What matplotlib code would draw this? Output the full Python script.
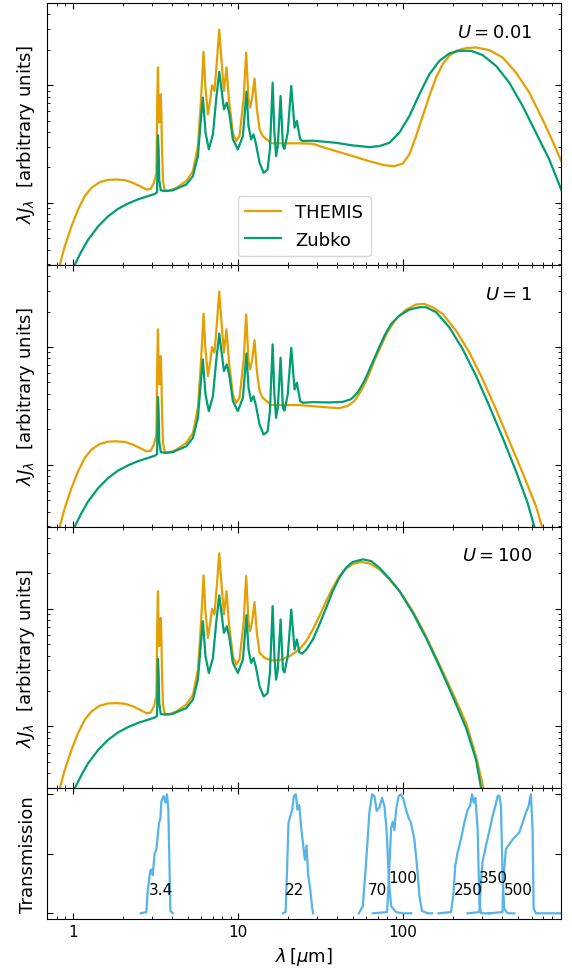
import numpy as np
import matplotlib
matplotlib.use('Agg')
import matplotlib.pyplot as plt
from matplotlib.ticker import NullFormatter, FuncFormatter

# --- dust SEDs, lambda*J_lambda in arbitrary units ---
# short-wavelength part is the same in the three panels
themis_wl_pah = [0.80, 0.831, 0.891, 0.978, 1.072, 1.177, 1.291, 1.45, 1.63, 1.83, 2.06, 2.31, 2.59,
                 2.78, 2.95, 3.09, 3.20, 3.24, 3.27, 3.30, 3.33, 3.38, 3.40, 3.43, 3.46, 3.51, 3.59,
                 3.76, 4.22, 4.85, 5.33, 5.71, 5.93, 6.04, 6.18, 6.33, 6.57, 6.79, 6.95, 7.20, 7.46,
                 7.69, 7.98, 8.21, 8.51, 8.80, 9.30, 9.74, 10.2, 10.8, 11.2, 11.57, 11.84, 12.18,
                 12.58, 13.0, 13.5]
themis_pah = [0.0245, 0.0298, 0.0427, 0.0632, 0.0877, 0.114, 0.134, 0.150, 0.157, 0.158, 0.156,
              0.148, 0.137, 0.130, 0.131, 0.148, 0.180, 0.760, 1.416, 0.624, 0.481, 0.811, 0.838,
              0.585, 0.285, 0.153, 0.130, 0.126, 0.134, 0.153, 0.186, 0.304, 0.667, 1.054, 1.923,
              0.986, 0.566, 0.760, 1.0, 0.895, 1.667, 2.965, 1.462, 0.895, 1.416, 0.760, 0.395,
              0.336, 0.370, 0.760, 1.897, 0.760, 0.646, 0.785, 1.140, 0.624, 0.422]

zubko_wl_pah = [0.98, 1.024, 1.124, 1.233, 1.42, 1.63, 1.87, 2.15, 2.47, 2.84, 3.12, 3.23, 3.27,
                3.30, 3.33, 3.40, 3.59, 4.03, 4.22, 4.85, 5.33, 5.71, 5.98, 6.12, 6.35, 6.65, 7.04,
                7.37, 7.69, 7.98, 8.21, 8.55, 8.87, 9.30, 9.97, 10.7, 11.25, 11.57, 12.0, 12.4,
                12.8, 13.5, 14.3, 15.1, 15.6, 16.2, 16.6, 17.0, 17.4, 18.1, 18.7, 19.1, 20.0, 21.0]
zubko_pah = [0.0255, 0.0298, 0.0387, 0.0486, 0.0632, 0.0769, 0.0889, 0.0986, 0.107, 0.114, 0.119,
             0.123, 0.375, 0.285, 0.158, 0.128, 0.126, 0.128, 0.132, 0.143, 0.169, 0.250, 0.548,
             0.785, 0.395, 0.285, 0.382, 0.760, 1.300, 0.865, 0.624, 0.711, 0.566, 0.347, 0.285,
             0.370, 0.883, 0.450, 0.347, 0.382, 0.324, 0.219, 0.180, 0.192, 0.285, 1.054, 0.395,
             0.250, 0.304, 0.811, 0.304, 0.288, 0.395, 0.986]

# long-wavelength part, one per radiation field U
themis_wl_u001 = [14.1, 15.9, 18.7, 23.5, 28.4, 31.1, 39.3, 49.5, 62.5, 77.1, 88.6, 99.5, 109.2,
                  119.9, 131.5, 144.3, 158.5, 173.8, 190.6, 209.3, 240.4, 276.7, 332.8, 400.8, 483,
                  582, 700, 805, 891, 1000]
themis_u001 = [0.370, 0.321, 0.321, 0.321, 0.318, 0.304, 0.275, 0.250, 0.226, 0.209, 0.205, 0.216,
               0.258, 0.370, 0.547, 0.811, 1.163, 1.510, 1.778, 1.961, 2.068, 2.095, 1.988, 1.722,
               1.283, 0.866, 0.513, 0.335, 0.242, 0.167]
zubko_wl_u001 = [22.0, 22.7, 23.8, 24.6, 28.4, 39.3, 49.5, 62.5, 71.9, 82.6, 94.9, 109.2, 125.6,
                 144.3, 166, 190.6, 219.3, 258, 303.3, 365.6, 439.7, 529.8, 638.5, 768.6, 891, 1000]
zubko_u001 = [0.436, 0.497, 0.347, 0.336, 0.338, 0.324, 0.308, 0.298, 0.304, 0.324, 0.395, 0.547,
              0.838, 1.241, 1.611, 1.862, 1.961, 1.961, 1.803, 1.462, 1.054, 0.667, 0.395, 0.234,
              0.139, 0.092]

themis_wl_u1 = [14.1, 15.9, 18.7, 23.5, 28.4, 35.8, 41.1, 46.2, 50.7, 55.7, 61.1, 67.0, 73.6, 80.7,
                90.7, 104.3, 119.9, 134.6, 151.1, 173.8, 209.3, 251.8, 303.3, 365.6, 439.7, 529.8,
                638.5, 693.8, 780]
themis_u1 = [0.370, 0.321, 0.321, 0.321, 0.314, 0.306, 0.302, 0.316, 0.348, 0.424, 0.551, 0.765,
             1.026, 1.349, 1.734, 2.080, 2.296, 2.326, 2.178, 1.910, 1.377, 0.902, 0.533, 0.296,
             0.159, 0.0855, 0.0444, 0.0300, 0.0173]
zubko_wl_u1 = [22.0, 22.7, 23.8, 24.6, 28.4, 35.8, 43.1, 48.4, 53.1, 58.3, 64.0, 70.2, 77.1, 84.6,
               95.0, 109.2, 125.6, 137.8, 158.5, 190.6, 229.5, 276.7, 332.8, 400.8, 483, 568, 615,
               700]
zubko_u1 = [0.436, 0.497, 0.347, 0.336, 0.340, 0.338, 0.342, 0.360, 0.411, 0.516, 0.693, 0.931,
            1.249, 1.570, 1.849, 2.080, 2.178, 2.178, 1.977, 1.472, 0.962, 0.569, 0.316, 0.170,
            0.0881, 0.0474, 0.0320, 0.017]

themis_wl_u100 = [14.5, 15.9, 17.8, 20.5, 23.5, 25.9, 28.4, 31.1, 34.2, 37.5, 41.1, 45.1, 49.5, 55.6,
                  62.5, 71.9, 82.6, 95.1, 114.5, 137.8, 166, 200, 241, 277, 307, 330]
themis_u100 = [0.382, 0.365, 0.365, 0.395, 0.452, 0.530, 0.667, 0.865, 1.161, 1.510, 1.897, 2.193,
               2.404, 2.500, 2.432, 2.163, 1.778, 1.416, 0.955, 0.585, 0.336, 0.192, 0.107, 0.0555,
               0.0298, 0.0192]
zubko_wl_u100 = [22.0, 22.7, 23.5, 24.5, 25.9, 28.4, 31.1, 34.2, 37.5, 41.1, 45.1, 49.5, 57.0, 64.0,
                 71.9, 82.6, 95.1, 114.5, 137.8, 166, 200, 241, 277, 297, 320]
zubko_u100 = [0.450, 0.548, 0.428, 0.416, 0.450, 0.548, 0.735, 1.020, 1.416, 1.837, 2.234, 2.500,
              2.630, 2.547, 2.234, 1.803, 1.416, 0.925, 0.566, 0.324, 0.180, 0.0968, 0.0520, 0.0298,
              0.0186]

U_labels = ['0.01', '1', '100']

# --- filter transmission curves ---
filt_names = ['3.4', '22', '70', '100', '250', '350', '500']
filt_wl = [
    [2.57, 2.78, 2.84, 2.94, 3.02, 3.04, 3.12, 3.20, 3.32, 3.38, 3.43, 3.54, 3.63, 3.71, 3.78, 3.89, 4.03],
    [18.7, 19.4, 19.8, 20.2, 20.6, 21.3, 21.8, 22.4, 22.9, 23.5, 24.2, 24.6, 25.4, 26.0, 26.6, 27.4,
     28.1, 28.5],
    [53.9, 57.0, 59.7, 62.5, 64.9, 67.0, 69.2, 71.9, 74.6, 77.1, 79.6, 81.9, 84.6, 90.7, 99.6, 112],
    [65.5, 80.0, 81.9, 84.6, 86.5, 88.6, 90.7, 94.0, 97.2, 100.4, 104.3, 108.1, 111.7, 117, 120.9,
     125.5, 130.2, 141, 150],
    [164, 195, 201.6, 207, 214, 224, 235, 246, 254, 262, 268, 274, 283, 290, 297, 340],
    [246, 290, 297, 303, 318, 333, 349, 362, 374, 383, 392, 401, 410, 430, 472],
    [330, 400, 405, 420, 440, 461, 483, 506, 530, 556, 576, 595, 609, 618, 639, 1000],
]
filt_tr = [
    [0, 0.01, 0.20, 0.36, 0.37, 0.32, 0.50, 0.54, 0.76, 0.79, 0.94, 0.985, 0.93, 1.0, 0.87, 0.02, 0],
    [0, 0.01, 0.35, 0.76, 0.80, 0.87, 0.99, 1.0, 0.87, 0.91, 0.70, 0.62, 0.45, 0.57, 0.32, 0.20, 0.05, 0],
    [0, 0.06, 0.43, 0.85, 1.0, 0.985, 0.86, 0.89, 0.97, 0.90, 0.68, 0.29, 0.06, 0.01, 0, 0],
    [0, 0.01, 0.29, 0.71, 0.77, 0.70, 0.87, 0.985, 1.0, 0.96, 0.87, 0.80, 0.76, 0.62, 0.43, 0.15,
     0.02, 0, 0],
    [0, 0.01, 0.15, 0.40, 0.51, 0.62, 0.76, 0.87, 0.90, 1.0, 0.93, 0.97, 0.71, 0.09, 0, 0],
    [0, 0.01, 0.29, 0.43, 0.57, 0.69, 0.82, 0.90, 0.985, 0.99, 0.90, 0.29, 0.04, 0, 0],
    [0, 0.01, 0.29, 0.54, 0.58, 0.62, 0.65, 0.68, 0.76, 0.85, 0.90, 1.0, 0.71, 0.04, 0, 0],
]
label_wl = [3.4, 22, 70, 100, 250, 350, 500]

c_themis = '#E69F00'
c_zubko = '#009E73'
c_filt = '#56B4E9'

plt.rcParams.update({
    'font.size': 13,
    'xtick.labelsize': 11,
    'ytick.labelsize': 11,
    'xtick.direction': 'in',
    'ytick.direction': 'in',
    'xtick.top': True,
    'ytick.right': True,
    'xtick.major.size': 4,
    'ytick.major.size': 4,
    'xtick.minor.size': 2,
    'ytick.minor.size': 2,
})

fig, axs = plt.subplots(4, 1, sharex=True, figsize=(5.72, 9.70), dpi=100,
                        gridspec_kw=dict(height_ratios=[2, 2, 2, 1], hspace=0,
                                         left=0.083, right=0.980, top=0.9959, bottom=0.0513))

themis_tails = [(themis_wl_u001, themis_u001), (themis_wl_u1, themis_u1), (themis_wl_u100, themis_u100)]
zubko_tails = [(zubko_wl_u001, zubko_u001), (zubko_wl_u1, zubko_u1), (zubko_wl_u100, zubko_u100)]

for i, ax in enumerate(axs[:3]):
    tw, tv = themis_tails[i]
    zw, zv = zubko_tails[i]
    ax.plot(themis_wl_pah + tw, themis_pah + tv, color=c_themis, lw=1.6, label='THEMIS')
    ax.plot(zubko_wl_pah + zw, zubko_pah + zv, color=c_zubko, lw=1.6, label='Zubko')
    ax.set_xscale('log')
    ax.set_yscale('log')
    ax.set_ylim(0.0298, 5.0)
    ax.yaxis.set_major_formatter(NullFormatter())
    ax.yaxis.set_minor_formatter(NullFormatter())
    ax.set_ylabel(r'$\lambda J_\lambda$  [arbitrary units]')
    ax.text(0.945, 0.89, r'$U = %s$' % U_labels[i], transform=ax.transAxes,
            ha='right', va='center')
    ax.tick_params(which='both', bottom=True, top=True, left=True, right=True)

axs[0].legend(loc='lower center')

ax = axs[3]
for name, wl, tr, lw_ in zip(filt_names, filt_wl, filt_tr, label_wl):
    ax.plot(wl, tr, color=c_filt, lw=1.6)
    y = 0.3 if name in ('100', '350') else 0.2
    ax.text(lw_, y, name, ha='center', va='center', fontsize=11)
ax.set_ylim(-0.05, 1.05)
ax.set_yticks([0, 0.5, 1])
ax.yaxis.set_major_formatter(NullFormatter())
ax.set_ylabel('Transmission')
ax.set_xscale('log')
ax.set_xlim(0.7, 900)
ax.xaxis.set_major_formatter(FuncFormatter(lambda v, p: '%g' % v))
ax.xaxis.set_minor_formatter(NullFormatter())
ax.set_xlabel(r'$\lambda\,[\mu\mathrm{m}]$')

fig.align_ylabels(axs)
fig.savefig('out.png', dpi=100)
